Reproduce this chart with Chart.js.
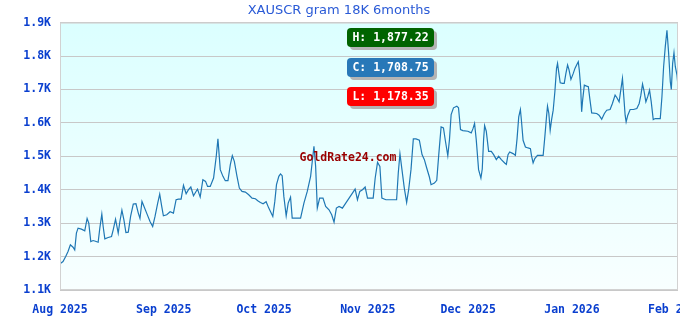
<!DOCTYPE html>
<html>
<head>
<meta charset="utf-8">
<script src="https://cdn.jsdelivr.net/npm/chart.js@4/dist/chart.umd.min.js"></script>
<style>
  html, body { margin: 0; padding: 0; background: #fff; }
</style>
</head>
<body>
<canvas id="chart" width="680" height="320"></canvas>
<script>
// XAUSCR gram 18K, last 6 months (days counted from 1 Aug 2025)
const dayOffsets = [
  0.0, 0.9, 1.7, 2.4, 3.1, 3.9, 4.4, 4.9, 5.4, 6.4, 7.4, 8.1, 8.6, 9.2, 9.9, 10.6, 11.4, 11.9, 12.5, 12.9,
  13.4, 14.4, 15.4, 15.9, 16.6, 17.4, 17.9, 18.5, 19.1, 19.7, 20.4, 21.1, 21.9, 22.7, 23.4, 23.9, 24.5, 24.9, 25.9, 26.9,
  27.7, 28.4, 29.2, 29.8, 30.4, 30.9, 31.9, 32.9, 33.9, 34.7, 35.4, 36.2, 36.9, 37.7, 38.4, 39.1, 39.9, 41.1, 41.9, 42.7,
  43.5, 44.1, 44.9, 45.9, 46.7, 47.2, 47.9, 48.7, 49.4, 50.2, 50.9, 51.5, 52.1, 52.9, 53.6, 54.4, 55.4, 56.4, 57.4, 58.4,
  59.1, 59.9, 60.7, 61.6, 62.4, 63.6, 64.2, 64.7, 65.4, 65.9, 66.4, 66.9, 67.6, 68.2, 68.9, 69.4, 70.2, 71.9, 72.9, 73.9,
  74.9, 75.9, 76.4, 76.9, 77.6, 78.6, 79.4, 80.4, 81.2, 81.9, 82.6, 83.4, 84.4, 85.4, 86.4, 87.4, 88.2, 88.9, 89.6, 90.4,
  91.2, 91.9, 92.6, 93.6, 94.2, 94.9, 95.6, 96.2, 97.4, 100.6, 101.1, 101.6, 102.2, 102.9, 103.6, 104.2, 104.9, 105.6, 106.4, 107.4,
  108.2, 108.9, 109.6, 110.4, 110.9, 111.9, 112.6, 113.2, 113.9, 114.6, 115.2, 115.9, 116.4, 116.9, 117.6, 118.6, 119.1, 119.7, 120.4, 121.9,
  122.9, 123.4, 123.9, 124.4, 125.1, 125.8, 126.2, 126.6, 126.9, 127.4, 128.1, 128.9, 129.6, 130.4, 131.1, 131.9, 132.9, 133.4, 133.9, 134.4,
  135.4, 136.1, 136.6, 137.1, 137.6, 137.9, 138.4, 139.1, 139.9, 140.6, 140.9, 141.4, 141.9, 142.7, 144.4, 144.9, 145.4, 145.7, 146.1, 146.5,
  146.9, 147.4, 147.9, 148.4, 148.7, 149.1, 149.5, 150.2, 150.7, 151.2, 151.7, 152.1, 152.7, 153.4, 153.9, 154.4, 154.9, 155.2, 155.6, 155.9,
  156.2, 156.7, 157.4, 157.9, 158.4, 158.9, 160.4, 161.1, 161.9, 162.7, 163.4, 164.4, 165.1, 165.9, 166.4, 167.1, 167.6, 168.1, 168.5, 168.9,
  169.2, 169.7, 170.4, 171.4, 172.4, 173.1, 173.6, 174.1, 174.5, 175.1, 175.7, 176.2, 176.7, 177.3, 177.9, 179.4, 179.9, 180.4, 180.9, 181.4,
  181.9, 182.4, 182.7, 183.1, 183.5, 183.9, 184.4, 184.7
];
const prices = [
  1178.35, 1185, 1200, 1215, 1235, 1228, 1220, 1270, 1285, 1282, 1277, 1314, 1300, 1245, 1248, 1246, 1243, 1285, 1327, 1290,
  1253, 1257, 1260, 1280, 1312, 1270, 1305, 1339, 1310, 1272, 1273, 1320, 1357, 1358, 1330, 1314, 1365, 1355, 1330, 1305,
  1290, 1320, 1360, 1387, 1350, 1322, 1325, 1334, 1330, 1370, 1372, 1372, 1413, 1388, 1400, 1408, 1382, 1402, 1378, 1430,
  1425, 1410, 1410, 1435, 1500, 1552, 1460, 1440, 1427, 1427, 1475, 1502, 1485, 1440, 1405, 1395, 1393, 1385, 1375, 1373,
  1367, 1362, 1358, 1364, 1345, 1320, 1365, 1415, 1440, 1447, 1442, 1380, 1322, 1360, 1378, 1315, 1315, 1315, 1360, 1395,
  1440, 1530, 1470, 1345, 1375, 1375, 1350, 1340, 1325, 1303, 1345, 1350, 1345, 1360, 1375, 1390, 1402, 1370, 1395, 1400,
  1408, 1375, 1375, 1375, 1435, 1482, 1470, 1375, 1370, 1370, 1450, 1508, 1460, 1405, 1362, 1400, 1460, 1552, 1552, 1548,
  1505, 1490, 1465, 1438, 1415, 1420, 1428, 1505, 1588, 1585, 1545, 1502, 1550, 1625, 1645, 1650, 1645, 1580, 1577, 1575,
  1570, 1582, 1598, 1550, 1460, 1435, 1462, 1550, 1592, 1575, 1515, 1515, 1505, 1490, 1500, 1490, 1480, 1476, 1505, 1513,
  1508, 1503, 1553, 1618, 1640, 1608, 1548, 1528, 1525, 1523, 1503, 1480, 1493, 1503, 1503, 1558, 1618, 1650, 1628, 1578,
  1608, 1638, 1693, 1763, 1778, 1748, 1720, 1718, 1718, 1748, 1773, 1760, 1730, 1748, 1763, 1773, 1783, 1758, 1708, 1633,
  1668, 1713, 1710, 1708, 1668, 1630, 1628, 1623, 1611, 1628, 1638, 1640, 1658, 1683, 1676, 1663, 1698, 1733, 1678, 1623,
  1603, 1623, 1640, 1640, 1643, 1658, 1683, 1716, 1698, 1663, 1680, 1698, 1663, 1610, 1613, 1613, 1678, 1768, 1828, 1877.22,
  1808, 1723, 1700, 1778, 1810, 1768, 1743, 1708.75
];
const monthTicks = [0, 31, 61, 92, 122, 153, 184];
const monthLabels = ['Aug 2025', 'Sep 2025', 'Oct 2025', 'Nov 2025', 'Dec 2025', 'Jan 2026', 'Feb 2026'];
const yTicks = [1100, 1200, 1300, 1400, 1500, 1600, 1700, 1800, 1900];

const MONO = 'bold 11.5px "DejaVu Sans Mono", monospace';

function fmt(v) {
  return v.toLocaleString('en-US', { minimumFractionDigits: 2, maximumFractionDigits: 2 });
}

function badge(ctx, x, y, w, h, color, text) {
  ctx.fillStyle = '#b4b4b4';
  ctx.beginPath();
  ctx.roundRect(x + 3, y + 3, w, h, 4);
  ctx.fill();
  ctx.fillStyle = color;
  ctx.beginPath();
  ctx.roundRect(x, y, w, h, 4);
  ctx.fill();
  ctx.fillStyle = '#ffffff';
  ctx.font = MONO;
  ctx.textAlign = 'center';
  ctx.textBaseline = 'middle';
  ctx.fillText(text, x + w / 2, y + h / 2 + 1);
}

// background gradient, frame, watermark and H/C/L badges
const decor = {
  id: 'decor',
  beforeDraw(chart) {
    const { ctx, chartArea: a } = chart;
    const g = ctx.createLinearGradient(0, a.top, 0, a.bottom);
    g.addColorStop(0, '#dbffff');
    g.addColorStop(1, '#f8ffff');
    ctx.save();
    ctx.fillStyle = g;
    ctx.fillRect(a.left, a.top, a.right - a.left, a.bottom - a.top);
    ctx.restore();
  },
  afterDraw(chart) {
    const { ctx, chartArea: a } = chart;
    ctx.save();
    ctx.strokeStyle = '#d2d2d2';
    ctx.lineWidth = 1;
    ctx.strokeRect(a.left + 0.5, a.top + 0.5, a.right - a.left - 1, a.bottom - a.top - 1);

    ctx.font = MONO;
    ctx.fillStyle = '#990000';
    ctx.textAlign = 'center';
    ctx.textBaseline = 'middle';
    ctx.fillText('GoldRate24.com', a.left + 288, 158);

    const hi = Math.max(...prices);
    const lo = Math.min(...prices);
    const last = prices[prices.length - 1];
    const bx = a.left + 287;
    badge(ctx, bx, 28, 87, 19, '#006400', 'H: ' + fmt(hi));
    badge(ctx, bx, 58, 87, 19, '#2878b8', 'C: ' + fmt(last));
    badge(ctx, bx, 87, 87, 19, '#ff0000', 'L: ' + fmt(lo));
    ctx.restore();
  }
};

new Chart(document.getElementById('chart'), {
  type: 'line',
  data: {
    datasets: [{
      data: dayOffsets.map((d, i) => ({ x: d, y: prices[i] })),
      borderColor: '#1f77b4',
      borderWidth: 1.2,
      pointRadius: 0,
      tension: 0,
      fill: false
    }]
  },
  options: {
    responsive: false,
    animation: false,
    devicePixelRatio: 1,
    layout: { padding: { left: 0, right: 2, top: 0, bottom: 0 } },
    plugins: {
      legend: { display: false },
      tooltip: { enabled: false },
      title: {
        display: true,
        text: 'XAUSCR gram 18K 6months',
        color: '#2a5ad6',
        font: { family: '"DejaVu Sans", sans-serif', size: 13, weight: 'normal' },
        padding: { top: 3, bottom: 4 }
      }
    },
    scales: {
      x: {
        type: 'linear',
        min: 0,
        max: dayOffsets[dayOffsets.length - 1],
        afterBuildTicks: (axis) => { axis.ticks = monthTicks.map(v => ({ value: v })); },
        afterFit: (axis) => { axis.height = 30; axis.paddingLeft = 0; axis.paddingRight = 0; },
        grid: { display: false },
        border: { display: false },
        ticks: {
          autoSkip: false,
          maxRotation: 0,
          padding: 5,
          color: '#0a3fcf',
          font: { family: '"DejaVu Sans Mono", monospace', size: 11.5, weight: 'bold' },
          callback: (v) => monthLabels[monthTicks.indexOf(v)]
        }
      },
      y: {
        min: 1100,
        max: 1900,
        afterBuildTicks: (axis) => { axis.ticks = yTicks.map(v => ({ value: v })); },
        afterFit: (axis) => { axis.width = 60; },
        grid: { color: '#c8c8c8', lineWidth: 1, drawTicks: false },
        border: { display: false },
        ticks: {
          padding: 9,
          color: '#0a3fcf',
          font: { family: '"DejaVu Sans Mono", monospace', size: 11.5, weight: 'bold' },
          callback: (v) => (v / 1000).toFixed(1) + 'K'
        }
      }
    }
  },
  plugins: [decor]
});
</script>
</body>
</html>
